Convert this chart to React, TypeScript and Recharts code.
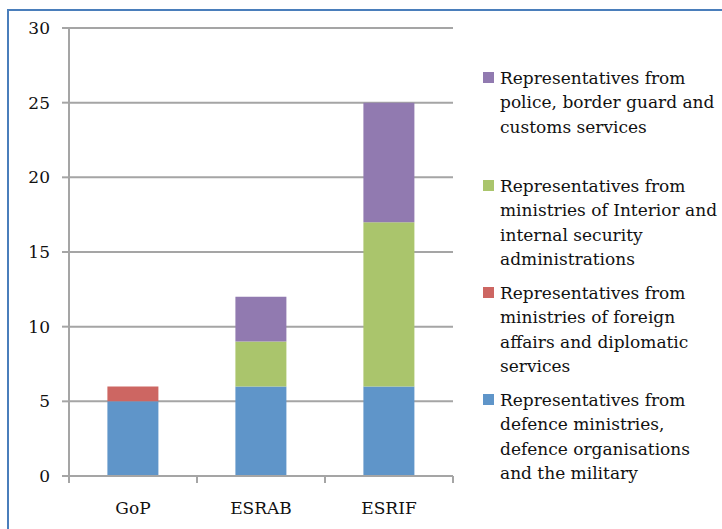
import React from 'react';
import { BarChart, Bar, XAxis, YAxis, CartesianGrid, Legend } from 'recharts';

const categories = ['GoP', 'ESRAB', 'ESRIF'];
const defence = [5, 6, 6];
const foreign = [1, 0, 0];
const interior = [0, 3, 11];
const police = [0, 3, 8];
const yTicks = [0, 5, 10, 15, 20, 25, 30];

const seriesKeys = ['defence', 'foreign', 'interior', 'police'];
const seriesNames = [
  'Representatives from defence ministries, defence organisations and the military',
  'Representatives from ministries of foreign affairs and diplomatic services',
  'Representatives from ministries of Interior and internal security administrations',
  'Representatives from police, border guard and customs services',
];
const legendLines = [
  ['Representatives from', 'defence ministries,', 'defence organisations', 'and the military'],
  ['Representatives from', 'ministries of foreign', 'affairs and diplomatic', 'services'],
  ['Representatives from', 'ministries of Interior and', 'internal security', 'administrations'],
  ['Representatives from', 'police, border guard and', 'customs services'],
];
const colors = ['#5F95C9', '#CD6662', '#AAC56C', '#917AB0'];

const data = categories.map((c, i) => ({
  category: c,
  defence: defence[i],
  foreign: foreign[i],
  interior: interior[i],
  police: police[i],
}));

// layout
const W = 722;
const H = 529;
const X_H = 30;
const M = { top: 28, right: 269, bottom: 53 - X_H, left: 0 };
const Y_W = 69;
const BAND = (W - M.right - M.left - Y_W) / categories.length;
const GRID = '#A5A5A5';
const FONT = '"DejaVu Serif", serif';
const FS = 17;
const TXT = '#111';
// first-line centers of legend entries (series index order)
const legendTops = [400, 293, 186, 78];
const LH = 24.6;

const XTick = (props: any) => {
  const { x, y, payload } = props;
  const half = BAND / 2;
  return (
    <g>
      <line x1={x - half} x2={x - half} y1={y - 7} y2={y} stroke={GRID} strokeWidth={2} />
      <line x1={x + half} x2={x + half} y1={y - 7} y2={y} stroke={GRID} strokeWidth={2} />
      <text x={x} y={y + 31} textAnchor="middle" fontFamily={FONT} fontSize={FS} fill={TXT}>
        {payload.value}
      </text>
    </g>
  );
};

const LegendContent = () => (
  <div style={{ position: 'relative', width: 0, height: 0 }}>
    {seriesKeys.map((k, i) => (
      <div
        key={k}
        style={{
          position: 'absolute',
          left: 483,
          top: legendTops[i] - LH / 2,
          whiteSpace: 'nowrap',
          fontFamily: FONT,
          fontSize: FS,
          lineHeight: `${LH}px`,
          color: TXT,
          textAlign: 'left',
        }}
      >
        <span
          style={{
            position: 'absolute',
            left: 0,
            top: LH / 2 - 6,
            width: 11,
            height: 11,
            background: colors[i],
          }}
        />
        <div style={{ marginLeft: 17 }}>
          {legendLines[i].map((l, j) => (
            <div key={j}>{l}</div>
          ))}
        </div>
      </div>
    ))}
  </div>
);

export default function App() {
  return (
    <div style={{ position: 'absolute', left: 0, top: 0, width: W, height: H, background: '#fff', overflow: 'hidden' }}>
      <div
        style={{
          position: 'absolute',
          left: 7,
          top: 9,
          width: W,
          height: H,
          borderLeft: '2px solid #4A7EBB',
          borderTop: '2px solid #4A7EBB',
        }}
      />
      <div style={{ position: 'absolute', left: 0, top: 0 }}>
        <BarChart width={W} height={H} data={data} margin={M} barCategoryGap="30%">
          <CartesianGrid vertical={false} stroke={GRID} strokeWidth={2} />
          <XAxis
            dataKey="category"
            height={X_H}
            axisLine={{ stroke: GRID, strokeWidth: 2 }}
            tickLine={false}
            tickSize={7}
            tickMargin={0}
            tick={<XTick />}
            interval={0}
          />
          <YAxis
            width={Y_W}
            domain={[0, 30]}
            ticks={yTicks}
            interval={0}
            axisLine={{ stroke: GRID, strokeWidth: 2 }}
            tickLine={{ stroke: GRID, strokeWidth: 2 }}
            tickSize={7}
            tickMargin={12}
            tick={{ fontFamily: FONT, fontSize: FS, fill: TXT }}
          />
          <Legend
            layout="vertical"
            align="center"
            verticalAlign="middle"
            wrapperStyle={{ position: 'absolute', left: 0, top: 0, width: 0, height: 0 }}
            content={<LegendContent />}
          />
          {seriesKeys.map((k, i) => (
            <Bar key={k} dataKey={k} name={seriesNames[i]} stackId="a" fill={colors[i]} isAnimationActive={false} />
          ))}
        </BarChart>
      </div>
    </div>
  );
}
